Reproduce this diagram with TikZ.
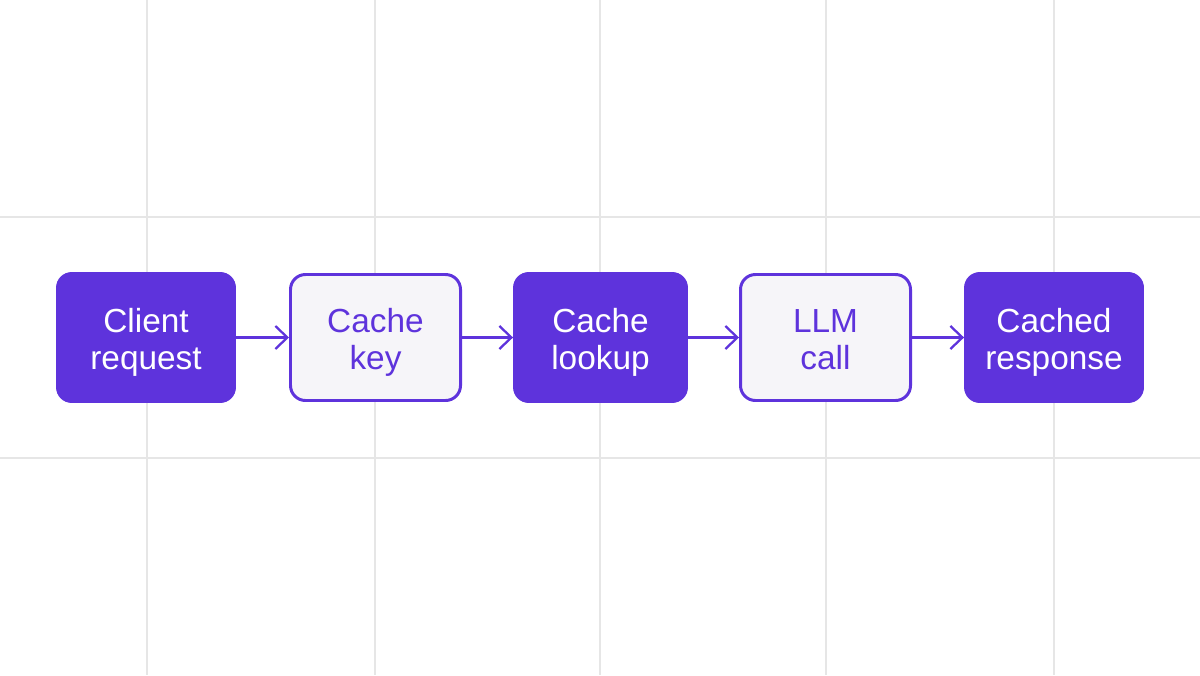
\documentclass[tikz,border=0pt]{standalone}
\usepackage{fontspec}
\setmainfont{Liberation Sans}
\usetikzlibrary{arrows.meta}

\definecolor{cachepurple}{HTML}{5E33DC}
\definecolor{cachepale}{HTML}{F6F5F9}
\definecolor{gridgray}{HTML}{E6E6E6}

\tikzset{
  stagebox/.style={rounded corners=0.3cm, align=center, inner sep=0pt,
    font=\fontsize{19}{20.8}\selectfont, text height=1.5cm, text depth=0.22cm},
  solidstage/.style={stagebox, minimum height=2.59cm, fill=cachepurple, draw=cachepurple,
    line width=0.8pt, text=white},
  palestage/.style={stagebox, minimum height=2.52cm, fill=cachepale, draw=cachepurple,
    line width=1.7pt, text=cachepurple},
  flow/.style={draw=cachepurple, line width=1.3pt, -{Straight Barb[length=2.4mm, width=4.6mm]}}
}

\begin{document}
\begin{tikzpicture}
  % Canvas
  \useasboundingbox[fill=white] (0,0) rectangle (24,13.5);

  % Background grid
  \foreach \gx in {2.94, 7.5, 12, 16.52, 21.08}
    \draw[gridgray, line width=0.6pt] (\gx,0) -- (\gx,13.5);
  \foreach \gy in {4.34, 9.16}
    \draw[gridgray, line width=0.6pt] (0,\gy) -- (24,\gy);

  % Pipeline stages
  \node[solidstage, minimum width=3.57cm] (client) at (2.92,6.75) {Client\\request};
  \node[palestage, minimum width=3.4cm] (key) at (7.51,6.75) {Cache\\key};
  \node[solidstage, minimum width=3.47cm] (lookup) at (12.01,6.75) {Cache\\lookup};
  \node[palestage, minimum width=3.4cm] (llm) at (16.51,6.75) {LLM\\call};
  \node[solidstage, minimum width=3.57cm] (cached) at (21.08,6.75) {Cached\\response};

  % Connectors
  \draw[flow] (client) -- (key);
  \draw[flow] (key) -- (lookup);
  \draw[flow] (lookup) -- (llm);
  \draw[flow] (llm) -- (cached);
\end{tikzpicture}
\end{document}
